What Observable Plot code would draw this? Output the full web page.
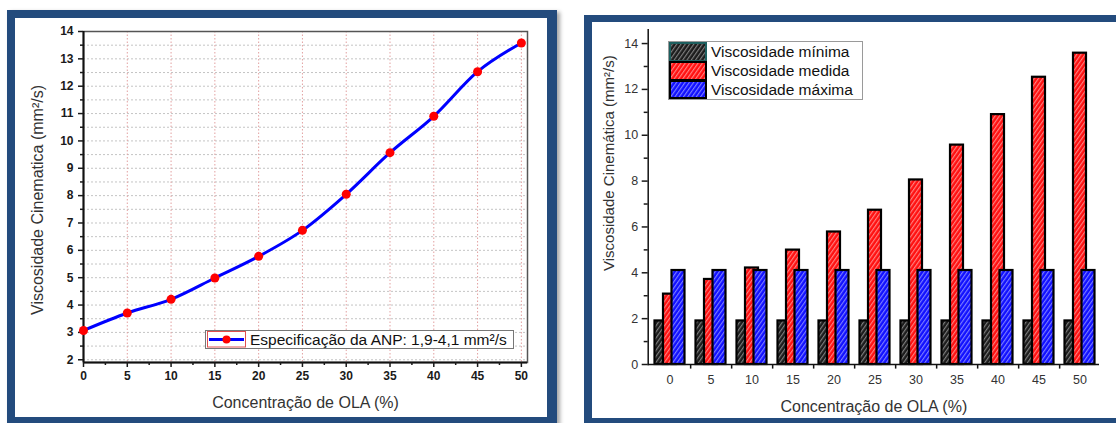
<!DOCTYPE html>
<html><head><meta charset="utf-8">
<script src="https://cdn.jsdelivr.net/npm/d3@7"></script>
<script src="https://cdn.jsdelivr.net/npm/@observablehq/plot@0.6"></script>
<style>
html,body{margin:0;padding:0;background:#fff;}
body{width:1116px;height:423px;overflow:hidden;position:relative;font-family:Arial,"Liberation Sans",sans-serif;}
.panel{position:absolute;border-style:solid;border-color:#234b7d;background:#fff;box-sizing:border-box;}
#p1{left:7px;top:10px;width:550px;height:415px;border-width:8px 10px 8px 8px;box-shadow:3px 2px 4px rgba(0,0,0,0.35);}
#p2{left:584px;top:15px;width:560px;height:411px;border-width:7px 8px 8px 8px;}
.chart{position:absolute;top:0;}
#c1{left:0;}
#c2{left:580px;}
.leg{position:absolute;background:#fff;box-sizing:border-box;color:#111;}
#leg1{left:205px;top:330px;width:309px;height:19px;border:1px solid #777;}
#leg1 svg{position:absolute;left:1px;top:0;}
#leg1 span{position:absolute;left:44px;top:0px;font-size:15.5px;line-height:17px;white-space:nowrap;}
#leg2{left:668px;top:41px;width:195px;height:59px;border:1px solid #9a9a9a;}
#leg2 .row{position:absolute;left:0;height:19px;width:100%;}
#leg2 svg{position:absolute;left:0;top:0;}
#leg2 span{position:absolute;left:42px;top:0;font-size:15.5px;line-height:19px;white-space:nowrap;}
</style>
</head><body>
<svg width="0" height="0" style="position:absolute">
  <defs>
    <pattern id="hatch-black" patternUnits="userSpaceOnUse" width="3.5" height="3.5" patternTransform="rotate(35)">
      <rect width="3.5" height="3.5" fill="#1c1c1c"/><line x1="0.6" y1="0" x2="0.6" y2="3.5" stroke="#8c8c8c" stroke-width="1"/>
    </pattern>
    <pattern id="hatch-red" patternUnits="userSpaceOnUse" width="3.5" height="3.5" patternTransform="rotate(35)">
      <rect width="3.5" height="3.5" fill="#ff1010"/><line x1="0.6" y1="0" x2="0.6" y2="3.5" stroke="#ff9090" stroke-width="1"/>
    </pattern>
    <pattern id="hatch-blue" patternUnits="userSpaceOnUse" width="3.5" height="3.5" patternTransform="rotate(35)">
      <rect width="3.5" height="3.5" fill="#1010ff"/><line x1="0.6" y1="0" x2="0.6" y2="3.5" stroke="#8c8cff" stroke-width="1"/>
    </pattern>
  </defs>
</svg>
<div class="panel" id="p1"></div>
<div class="panel" id="p2"></div>
<div class="chart" id="c1"></div>
<div class="chart" id="c2"></div>
<div class="leg" id="leg1"></div>
<div class="leg" id="leg2"></div>
<script>
// ---- data ----
const concentracao = [0, 5, 10, 15, 20, 25, 30, 35, 40, 45, 50];
const viscMedida  = [3.07, 3.71, 4.21, 4.99, 5.78, 6.73, 8.05, 9.57, 10.9, 12.53, 13.58];
const viscMinima  = [1.9, 1.9, 1.9, 1.9, 1.9, 1.9, 1.9, 1.9, 1.9, 1.9, 1.9];
const viscMaxima  = [4.1, 4.1, 4.1, 4.1, 4.1, 4.1, 4.1, 4.1, 4.1, 4.1, 4.1];

// ---- tick labels / grid values ----
const leftXTicks = [0, 5, 10, 15, 20, 25, 30, 35, 40, 45, 50];
const leftXMinor = [2.5, 7.5, 12.5, 17.5, 22.5, 27.5, 32.5, 37.5, 42.5, 47.5];
const leftYTicks = [2, 3, 4, 5, 6, 7, 8, 9, 10, 11, 12, 13, 14];
const leftYMinor = [2.5, 3.5, 4.5, 5.5, 6.5, 7.5, 8.5, 9.5, 10.5, 11.5, 12.5, 13.5];
const leftGridX = [5, 10, 15, 20, 25, 30, 35, 40, 45, 50];
const leftGridY = [2, 2.5, 3, 3.5, 4, 4.5, 5, 5.5, 6, 6.5, 7, 7.5, 8, 8.5, 9, 9.5, 10, 10.5, 11, 11.5, 12, 12.5, 13, 13.5];
const rightYTicks = [0, 2, 4, 6, 8, 10, 12, 14];
const rightYMinor = [1, 3, 5, 7, 9, 11, 13];

const xTitle = "Concentração de OLA (%)";
const yTitleLeft = "Viscosidade Cinematica (mm²/s)";
const yTitleRight = "Viscosidade Cinemática (mm²/s)";
const legendLeft = "Especificação da ANP: 1,9-4,1 mm²/s";
const seriesNames = ["Viscosidade mínima", "Viscosidade medida", "Viscosidade máxima"];
const seriesFills = ["url(#hatch-black)", "url(#hatch-red)", "url(#hatch-blue)"];

const rows = concentracao.map((c, i) => ({c, min: viscMinima[i], med: viscMedida[i], max: viscMaxima[i]}));
const FONT = 'Arial, "Liberation Sans", sans-serif';

// ---- left: line chart ----
const left = Plot.plot({
  width: 555, height: 420,
  marginLeft: 83, marginRight: 28, marginTop: 31, marginBottom: 58,
  style: {background: "transparent", fontFamily: FONT, color: "#1a1a1a", overflow: "visible"},
  x: {domain: [0, 50.7]},
  y: {domain: [1.9, 14]},
  marks: [
    Plot.ruleY(leftGridY, {stroke: "#c4c4c4", strokeDasharray: "2,2", strokeWidth: 1}),
    Plot.ruleX(leftGridX, {stroke: "#e2a0a0", strokeDasharray: "1.5,2", strokeWidth: 1}),
    Plot.frame({stroke: "#555", strokeWidth: 1.5}),
    Plot.ruleX([0], {stroke: "#111", strokeWidth: 2}),
    Plot.ruleY([1.9], {stroke: "#111", strokeWidth: 2}),
    Plot.axisY(leftYTicks, {tickSize: 5, tickPadding: 5, fontSize: 12, fontWeight: "bold", label: null, strokeWidth: 1.5}),
    Plot.axisY(leftYMinor, {tickSize: 3, tickFormat: () => "", label: null, strokeWidth: 1.5}),
    Plot.axisX(leftXTicks, {tickSize: 5, tickPadding: 4, fontSize: 12, fontWeight: "bold", label: null, strokeWidth: 1.5}),
    Plot.axisX(leftXMinor, {tickSize: 3, tickFormat: () => "", label: null, strokeWidth: 1.5}),
    Plot.line(rows, {x: "c", y: "med", stroke: "#0000ff", strokeWidth: 3, curve: "monotone-x"}),
    Plot.dot(rows, {x: "c", y: "med", r: 4.5, fill: "#ff0000"}),
    Plot.text([yTitleLeft], {text: d => d, frameAnchor: "left", textAnchor: "middle", lineAnchor: "middle", rotate: -90, dx: -46, dy: 3, fontSize: 16, fill: "#333"}),
    Plot.text([xTitle], {text: d => d, frameAnchor: "bottom", lineAnchor: "middle", dy: 40, fontSize: 16, fill: "#333"})
  ]
});
document.getElementById("c1").appendChild(left);

// ---- right: grouped (overlapping) bar chart ----
const right = Plot.plot({
  width: 536, height: 420,
  marginLeft: 67.7, marginRight: 17, marginTop: 29.3, marginBottom: 56,
  style: {background: "transparent", fontFamily: FONT, color: "#1a1a1a", overflow: "visible"},
  x: {type: "band", domain: concentracao, range: [67.15, 521.55], paddingInner: 0.685, paddingOuter: 0.3425, align: 0.5},
  y: {domain: [0, 14.6]},
  marks: [
    Plot.barY(rows, {x: "c", y: "min", fill: seriesFills[0], stroke: "#000", strokeWidth: 2.2, dx: -8.5}),
    Plot.barY(rows, {x: "c", y: "med", fill: seriesFills[1], stroke: "#000", strokeWidth: 2.2}),
    Plot.barY(rows, {x: "c", y: "max", fill: seriesFills[2], stroke: "#000", strokeWidth: 2.2, dx: 8.5}),
    Plot.frame({anchor: "left", stroke: "#111", strokeWidth: 1.5}),
    Plot.ruleY([0], {stroke: "#111", strokeWidth: 1.5}),
    Plot.ruleX(concentracao.slice(0, -1), {x: d => d, dx: 20.65, y1: 0, y2: -0.2, stroke: "#111", strokeWidth: 1.5}),
    Plot.axisY(rightYTicks, {tickSize: 6, tickPadding: 4, fontSize: 12.5, label: null, strokeWidth: 1.5, fill: "#333"}),
    Plot.axisY(rightYMinor, {tickSize: 4, tickFormat: () => "", label: null, strokeWidth: 1.5}),
    Plot.axisX(concentracao, {tickSize: 0, tickPadding: 11, fontSize: 12.5, label: null, fill: "#333"}),
    Plot.text([yTitleRight], {text: d => d, frameAnchor: "left", textAnchor: "middle", lineAnchor: "middle", rotate: -90, dx: -39, dy: -34, fontSize: 15, fill: "#333"}),
    Plot.text([xTitle], {text: d => d, frameAnchor: "bottom", lineAnchor: "middle", dy: 42, fontSize: 16, fill: "#333"})
  ]
});
document.getElementById("c2").appendChild(right);

// ---- legends ----
const leg1 = document.getElementById("leg1");
leg1.innerHTML = `<svg width="40" height="17"><rect x="0.5" y="0.5" width="38" height="15.5" fill="none" stroke="#e05050" stroke-width="1"/>
<line x1="2" y1="8.5" x2="37" y2="8.5" stroke="#0000ff" stroke-width="3"/><circle cx="19.5" cy="8.5" r="4" fill="#ff0000"/></svg>
<span>${legendLeft}</span>`;

const leg2 = document.getElementById("leg2");
leg2.innerHTML = seriesNames.map((name, i) =>
  `<div class="row" style="top:${i * 19}px"><svg width="38" height="19"><rect x="1" y="1" width="36" height="${i === 2 ? 17 : 18}" fill="${seriesFills[i]}" stroke="${i === 0 ? '#1d5f5f' : '#000'}" stroke-width="2"/></svg><span>${name}</span></div>`
).join("");
</script>
</body></html>
